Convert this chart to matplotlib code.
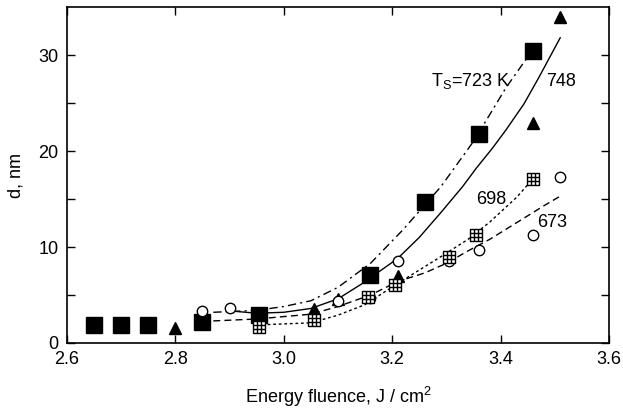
import matplotlib
matplotlib.use("Agg")
import matplotlib.pyplot as plt
from matplotlib.path import Path

plt.rcParams['font.family'] = ['Liberation Sans', 'DejaVu Sans']

# measured points, T_S = 723, 748, 673, 698 K
x_723 = [2.65, 2.70, 2.75, 2.85, 2.955, 3.16, 3.26, 3.36, 3.46]
d_723 = [1.9, 1.9, 1.9, 2.2, 2.9, 7.1, 14.7, 21.8, 30.4]

x_748 = [2.80, 3.055, 3.10, 3.21, 3.46, 3.51]
d_748 = [1.6, 3.5, 4.6, 7.0, 22.9, 34.0]

x_673 = [2.85, 2.90, 3.10, 3.16, 3.21, 3.305, 3.36, 3.46, 3.51]
d_673 = [3.3, 3.6, 4.4, 4.7, 8.5, 8.5, 9.7, 11.2, 17.3]

x_698 = [2.955, 3.055, 3.155, 3.205, 3.305, 3.355, 3.46]
d_698 = [1.7, 2.4, 4.8, 6.0, 9.0, 11.2, 17.1]

# fitted curves
fx_723 = [2.87, 2.95, 3.00, 3.05, 3.10, 3.16, 3.22, 3.29, 3.35, 3.38, 3.41, 3.44, 3.465]
fd_723 = [3.2, 3.4, 3.8, 4.4, 5.8, 8.3, 11.8, 16.3, 21.0, 23.8, 26.6, 29.0, 31.0]

fx_748 = [2.91, 2.95, 3.00, 3.05, 3.10, 3.145, 3.21, 3.25, 3.29, 3.33, 3.355, 3.385, 3.41, 3.443, 3.47, 3.51]
fd_748 = [3.3, 3.1, 3.2, 3.6, 4.6, 6.2, 8.8, 11.0, 13.6, 16.3, 18.2, 20.3, 22.2, 24.9, 27.6, 31.8]

fx_698 = [2.96, 3.05, 3.10, 3.15, 3.21, 3.29, 3.34, 3.38, 3.43, 3.455]
fd_698 = [1.9, 2.1, 2.9, 4.0, 6.2, 9.0, 10.8, 12.6, 15.2, 16.8]

fx_673 = [2.87, 2.95, 3.05, 3.10, 3.16, 3.21, 3.26, 3.30, 3.34, 3.38, 3.44, 3.48, 3.51]
fd_673 = [2.3, 2.5, 3.0, 3.8, 5.0, 6.4, 7.3, 8.3, 9.6, 10.8, 12.9, 14.3, 15.3]

# hatched square marker
g = 1 / 3
verts = [(-1, -1), (1, -1), (1, 1), (-1, 1), (-1, -1),
         (-g, -1), (-g, 1), (g, -1), (g, 1),
         (-1, -g), (1, -g), (-1, g), (1, g)]
codes = [Path.MOVETO, Path.LINETO, Path.LINETO, Path.LINETO, Path.CLOSEPOLY,
         Path.MOVETO, Path.LINETO, Path.MOVETO, Path.LINETO,
         Path.MOVETO, Path.LINETO, Path.MOVETO, Path.LINETO]
hatched = Path(verts, codes)

fig = plt.figure(figsize=(6.23, 4.16), dpi=100)
ax = fig.add_axes([0.1075, 0.1755, 0.87, 0.8075])

ax.plot(fx_723, fd_723, color='black', lw=1, ls=(0, (6, 3, 1.5, 3)))
ax.plot(fx_748, fd_748, color='black', lw=1, ls='-')
ax.plot(fx_698, fd_698, color='black', lw=1, ls=(0, (2, 2)))
ax.plot(fx_673, fd_673, color='black', lw=1, ls=(0, (5, 3)))

ax.plot(x_723, d_723, 's', color='black', ms=11, ls='none')
ax.plot(x_748, d_748, '^', color='black', ms=9, ls='none')
ax.plot(x_673, d_673, 'o', mfc='white', mec='black', mew=1, ms=7.5, ls='none')
ax.plot(x_698, d_698, marker=hatched, mfc='white', mec='black', mew=1, ms=8.5, ls='none')

ax.text(3.272, 27.3, r'T$_\mathregular{S}$=723 K', fontsize=13, va='center')
ax.text(3.484, 27.2, '748', fontsize=13, va='center')
ax.text(3.355, 14.9, '698', fontsize=13, va='center')
ax.text(3.467, 12.6, '673', fontsize=13, va='center')

ax.set_xlim(2.6, 3.6)
ax.set_ylim(0, 35)
ax.set_xticks([2.6, 2.8, 3.0, 3.2, 3.4, 3.6])
ax.set_xticklabels(['2.6', '2.8', '3.0', '3.2', '3.4', '3.6'])
ax.set_yticks([0, 10, 20, 30])
ax.set_yticks([5, 15, 25], minor=True)
ax.tick_params(which='both', direction='in', top=True, right=True, labelsize=13, pad=6)
ax.tick_params(which='major', length=6, width=1)
ax.tick_params(which='minor', length=6, width=1)
for s in ax.spines.values():
    s.set_linewidth(1.2)

ax.set_xlabel(r'Energy fluence, J / cm$^\mathregular{2}$', fontsize=13, labelpad=12)
ax.set_ylabel('d, nm', fontsize=13, labelpad=10)

fig.savefig('out.png', dpi=100)
